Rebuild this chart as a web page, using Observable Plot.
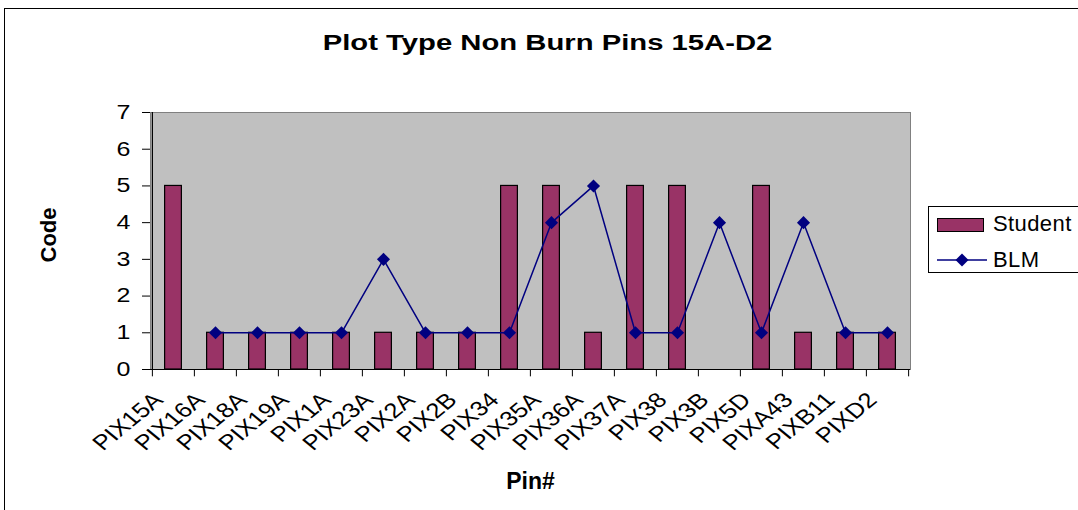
<!DOCTYPE html>
<html>
<head>
<meta charset="utf-8">
<script src="https://cdn.jsdelivr.net/npm/d3@7"></script>
<script src="https://cdn.jsdelivr.net/npm/@observablehq/plot@0.6"></script>
<style>
  html, body { margin: 0; padding: 0; background: #fff; overflow: hidden; }
  #wrap { position: relative; width: 1078px; height: 510px; overflow: hidden;
          font-family: "Liberation Sans", Arial, sans-serif; }
  #wrap svg { position: absolute; left: 0; top: 0; }
  #border { position: absolute; left: 4px; top: 8px; width: 1200px; height: 600px;
            border: 1px solid #000; box-sizing: border-box; pointer-events: none; }
  #legend { position: absolute; left: 928px; top: 206px; width: 220px; height: 67px;
            border: 1px solid #000; box-sizing: border-box; background: #fff; }
  #legend .lbl { position: absolute; left: 64px; font-size: 22px; line-height: 22px;
                 white-space: nowrap; letter-spacing: 0.4px; color: #000; }
  #legend .sw { position: absolute; }
</style>
</head>
<body>
<div id="wrap">
  <div id="border"></div>
</div>
<script>
// ---------------- data ----------------
const categories = ["PIX15A","PIX16A","PIX18A","PIX19A","PIX1A","PIX23A","PIX2A","PIX2B","PIX34",
                    "PIX35A","PIX36A","PIX37A","PIX38","PIX3B","PIX5D","PIXA43","PIXB11","PIXD2"];
const studentValues = [5,1,1,1,1,1,1,1,5,5,1,5,5,null,5,1,1,1];
const blmValues     = [null,1,1,1,1,3,1,1,1,4,5,1,1,4,1,4,1,1];
const yTicks = [0,1,2,3,4,5,6,7];
const seriesNames = ["Student","BLM"];
const chartTitle = "Plot Type Non Burn Pins 15A-D2";
const xTitle = "Pin#";
const yTitle = "Code";

const rows = categories.map((c, i) => ({pin: c, student: studentValues[i], blm: blmValues[i]}));

// ---------------- layout ----------------
const W = 1078, H = 510, ML = 150, MR = 168, MT = 112, MB = 141;
const step = (W - ML - MR) / categories.length;
const barWidth = 17;
const barInset = (step - barWidth) / 2;
const studentColor = "#993366", blmColor = "#000080";

const plot = Plot.plot({
  width: W, height: H,
  marginLeft: ML, marginRight: MR, marginTop: MT, marginBottom: MB,
  style: {fontFamily: "'Liberation Sans', Arial, sans-serif", background: "transparent", color: "#000", overflow: "visible"},
  x: {domain: categories, padding: 0, label: null},
  y: {domain: [0, 7], label: null},
  marks: [
    Plot.frame({fill: "#c0c0c0", stroke: "#808080"}),
    Plot.barY(rows, {x: "pin", y: "student", fill: studentColor, stroke: "#000", strokeWidth: 1.2,
                     insetLeft: barInset, insetRight: barInset}),
    Plot.ruleY([0], {stroke: "#000", strokeWidth: 1.2}),
    Plot.ruleX([categories[0]], {dx: -step / 2, y1: 0, y2: 7, stroke: "#000", strokeWidth: 1.2}),
    Plot.ruleX(categories, {dx: -step / 2, y1: 0, y2: -0.2, stroke: "#000"}),
    Plot.ruleX([categories[categories.length - 1]], {dx: step / 2, y1: 0, y2: -0.2, stroke: "#000"}),
    Plot.line(rows, {x: "pin", y: "blm", stroke: blmColor, strokeWidth: 1.5}),
    Plot.dot(rows, {x: "pin", y: "blm", symbol: "diamond2", r: 5.9, fill: blmColor, stroke: "none"}),
    Plot.axisY({ticks: yTicks, tickFormat: "d", tickSize: 8, tickPadding: 12, fontSize: 20,
                label: null, stroke: "#000"}),
    Plot.axisX({tickSize: 0, tickRotate: -45, textAnchor: "end", lineAnchor: "middle",
                tickPadding: 27, dx: -15, fontSize: 21, label: null}),
    Plot.text([chartTitle], {frameAnchor: "top", dx: 17, dy: -70, fontSize: 22, fontWeight: "bold",
                             lineAnchor: "middle"}),
    Plot.text([xTitle], {frameAnchor: "bottom", dy: 112, fontSize: 23, fontWeight: "bold",
                         lineAnchor: "middle"}),
    Plot.text([yTitle], {frameAnchor: "left", dx: -102, dy: -6, rotate: -90, fontSize: 22,
                         fontWeight: "bold", textAnchor: "middle", lineAnchor: "middle"})
  ]
});

// horizontal stretch of glyphs in screen space (the reference image is horizontally stretched)
function stretchText(t, sx) {
  const tr = t.getAttribute("transform") || "";
  const m = tr.match(/^\s*translate\(([^)]*)\)(.*)$/);
  if (m) t.setAttribute("transform", `translate(${m[1]}) scale(${sx},1)${m[2]}`);
  else t.setAttribute("transform", `scale(${sx},1) ${tr}`);
}
plot.querySelectorAll('g[aria-label="y-axis tick label"] text').forEach(t => stretchText(t, 1.25));
plot.querySelectorAll('g[aria-label="x-axis tick label"] text').forEach(t => stretchText(t, 1.22));
plot.querySelectorAll('text').forEach(t => { if (t.textContent === chartTitle) stretchText(t, 1.33); });

const wrap = document.getElementById("wrap");
wrap.insertBefore(plot, wrap.firstChild);

// legend
const legend = document.createElement("div");
legend.id = "legend";
legend.innerHTML = `
  <div class="sw" style="left:8px;top:11px;width:47px;height:14px;background:${studentColor};border:1px solid #000;box-sizing:border-box"></div>
  <div class="lbl" style="top:6px">${seriesNames[0]}</div>
  <svg class="sw" style="left:8px;top:45px" width="50" height="16">
    <line x1="0" y1="8" x2="50" y2="8" stroke="${blmColor}" stroke-width="1.5"></line>
    <path d="M25,1.5L31.5,8L25,14.5L18.5,8Z" fill="${blmColor}"></path>
  </svg>
  <div class="lbl" style="top:42px">${seriesNames[1]}</div>`;
wrap.appendChild(legend);
</script>
</body>
</html>
